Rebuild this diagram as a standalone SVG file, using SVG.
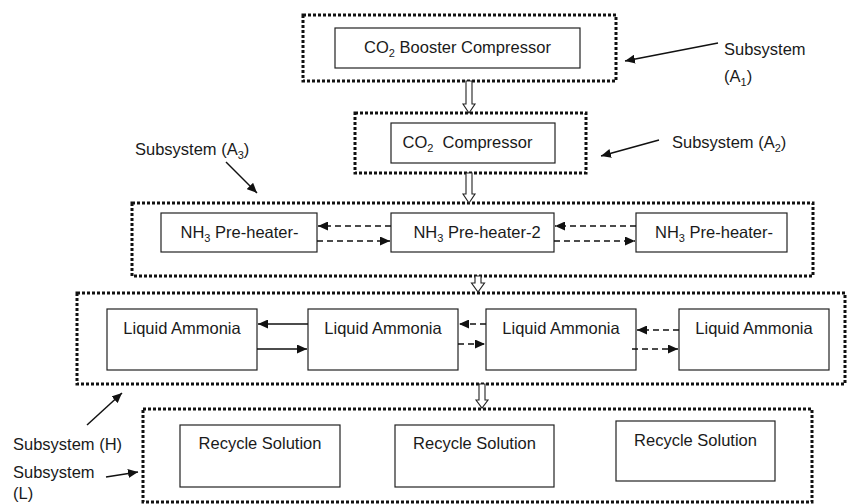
<svg xmlns="http://www.w3.org/2000/svg" width="849" height="504" viewBox="0 0 849 504">
<style>
  text { font-family: "Liberation Sans", Arial, sans-serif; font-size: 16.5px; fill: #1a1a1a; }
  .c { text-anchor: middle; }
  .box { fill: #fff; stroke: #222; stroke-width: 1.2; }
  .sub { fill: none; stroke: #111; stroke-width: 3; stroke-dasharray: 3 2; }
  .hollow { fill: #fff; stroke: #222; stroke-width: 1.1; }
  .solid { stroke: #111; stroke-width: 1.5; fill: none; marker-end: url(#ah); }
  .dash { stroke: #111; stroke-width: 1.5; fill: none; stroke-dasharray: 6 4; marker-end: url(#ah); }
  .lbl { stroke: #111; stroke-width: 1.5; fill: none; marker-end: url(#ah); }
</style>
<defs>
  <marker id="ah" markerUnits="userSpaceOnUse" markerWidth="11" markerHeight="9" refX="10" refY="4.5" orient="auto">
    <path d="M0,0 L10,4.5 L0,9 z" fill="#111"/>
  </marker>
</defs>
<rect width="849" height="504" fill="#fff"/>

<g id="subsystem-A1">
  <rect class="sub" x="303" y="15" width="313" height="66"/>
  <g id="co2-booster-compressor">
    <rect class="box" x="335" y="28" width="245" height="40"/>
    <text class="c" x="457.5" y="53">CO<tspan font-size="11" dy="4">2</tspan><tspan dy="-4"> Booster Compressor</tspan></text>
  </g>
</g>

<g id="subsystem-A2">
  <rect class="sub" x="355" y="113" width="231" height="60"/>
  <g id="co2-compressor">
    <rect class="box" x="391" y="123" width="164" height="40"/>
    <text class="c" x="467.5" y="148" xml:space="preserve">CO<tspan font-size="11" dy="4">2</tspan><tspan dy="-4">  Compressor</tspan></text>
  </g>
</g>

<g id="subsystem-A3">
  <rect class="sub" x="132" y="203" width="681" height="73"/>
  <g id="nh3-preheater-1">
    <rect class="box" x="161" y="213" width="156" height="39"/>
    <text class="c" x="239.5" y="238">NH<tspan font-size="11" dy="4">3</tspan><tspan dy="-4"> Pre-heater-</tspan></text>
  </g>
  <g id="nh3-preheater-2">
    <rect class="box" x="391" y="213" width="163" height="39"/>
    <text class="c" x="477" y="238">NH<tspan font-size="11" dy="4">3</tspan><tspan dy="-4"> Pre-heater-2</tspan></text>
  </g>
  <g id="nh3-preheater-3">
    <rect class="box" x="636" y="213" width="151" height="39"/>
    <text class="c" x="714" y="238">NH<tspan font-size="11" dy="4">3</tspan><tspan dy="-4"> Pre-heater-</tspan></text>
  </g>
</g>

<g id="subsystem-H">
  <rect class="sub" x="77" y="293" width="768" height="91"/>
  <g id="liquid-ammonia-1">
    <rect class="box" x="107" y="309" width="150" height="61"/>
    <text class="c" x="182" y="334">Liquid Ammonia</text>
  </g>
  <g id="liquid-ammonia-2">
    <rect class="box" x="308" y="309" width="150" height="61"/>
    <text class="c" x="383" y="334">Liquid Ammonia</text>
  </g>
  <g id="liquid-ammonia-3">
    <rect class="box" x="486" y="309" width="150" height="61"/>
    <text class="c" x="561" y="334">Liquid Ammonia</text>
  </g>
  <g id="liquid-ammonia-4">
    <rect class="box" x="679" y="309" width="150" height="61"/>
    <text class="c" x="754" y="334">Liquid Ammonia</text>
  </g>
</g>

<g id="subsystem-L">
  <rect class="sub" x="143" y="409" width="669" height="93"/>
  <g id="recycle-solution-1">
    <rect class="box" x="180" y="425" width="160" height="62"/>
    <text class="c" x="260" y="449">Recycle Solution</text>
  </g>
  <g id="recycle-solution-2">
    <rect class="box" x="395" y="425" width="159" height="62"/>
    <text class="c" x="474.5" y="449">Recycle Solution</text>
  </g>
  <g id="recycle-solution-3">
    <rect class="box" x="616" y="421" width="159" height="60"/>
    <text class="c" x="695.5" y="446">Recycle Solution</text>
  </g>
</g>

<g id="labels">
  <text x="724" y="55">Subsystem</text>
  <text x="724" y="82">(A<tspan font-size="11" dy="4">1</tspan><tspan dy="-4">)</tspan></text>
  <text x="672" y="148">Subsystem (A<tspan font-size="11" dy="4">2</tspan><tspan dy="-4">)</tspan></text>
  <text x="135" y="155">Subsystem (A<tspan font-size="11" dy="4">3</tspan><tspan dy="-4">)</tspan></text>
  <text x="13" y="450">Subsystem (H)</text>
  <text x="13" y="478">Subsystem</text>
  <text x="13" y="499">(L)</text>
</g>

<g id="connectors">
  <!-- hollow flow arrows between subsystems -->
  <path class="hollow" d="M466,81 L472,81 L472,104 L475,104 L469,113 L463,104 L466,104 Z"/>
  <path class="hollow" d="M466,173 L472,173 L472,194 L475,194 L469,203 L463,194 L466,194 Z"/>
  <path class="hollow" d="M475,276 L481,276 L481,283 L484.5,283 L478,292 L471.5,283 L475,283 Z"/>
  <path class="hollow" d="M479,384 L485,384 L485,400 L488,400 L482,408 L476,400 L479,400 Z"/>

  <!-- NH3 pre-heater exchanges -->
  <line class="dash" x1="391" y1="226" x2="318" y2="226"/>
  <line class="dash" x1="317" y1="241" x2="390" y2="241"/>
  <line class="dash" x1="636" y1="226" x2="555" y2="226"/>
  <line class="dash" x1="554" y1="241" x2="635" y2="241"/>

  <!-- Liquid ammonia exchanges -->
  <line class="solid" x1="308" y1="324" x2="258" y2="324"/>
  <line class="solid" x1="257" y1="349" x2="307" y2="349"/>
  <line class="dash" x1="486" y1="324" x2="459" y2="324"/>
  <line class="dash" x1="458" y1="344" x2="485" y2="344"/>
  <line class="dash" x1="679" y1="330" x2="637" y2="330"/>
  <line class="dash" x1="632" y1="349" x2="678" y2="349"/>

  <!-- label pointers -->
  <line class="lbl" x1="718" y1="43" x2="625" y2="61"/>
  <line class="lbl" x1="659" y1="140" x2="601" y2="156"/>
  <line class="lbl" x1="226" y1="162" x2="257" y2="193"/>
  <line class="lbl" x1="87" y1="425" x2="122" y2="393"/>
  <line class="lbl" x1="106" y1="477" x2="138" y2="472"/>
</g>
</svg>
